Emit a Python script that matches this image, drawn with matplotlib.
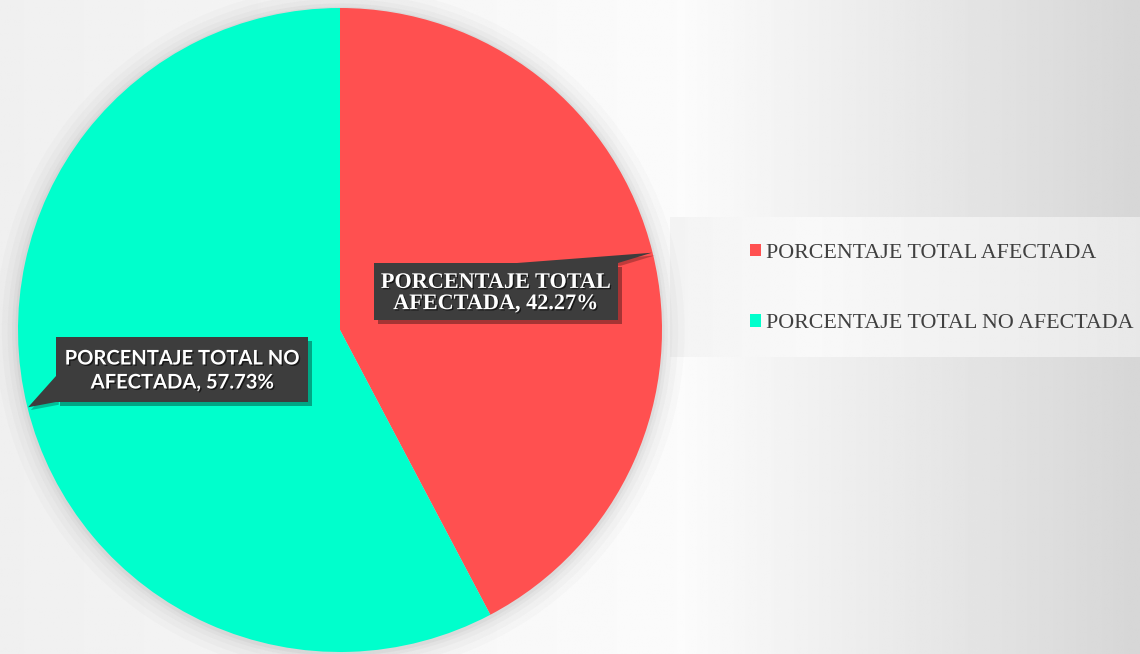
import numpy as np
import matplotlib
matplotlib.use("Agg")
import matplotlib.pyplot as plt
import matplotlib.patheffects as pe
from matplotlib.patches import Circle, Rectangle, Polygon

categories = ["PORCENTAJE TOTAL AFECTADA", "PORCENTAJE TOTAL NO AFECTADA"]
values = [42.27, 57.73]
colors = ["#FF5050", "#00FFCC"]
label_texts = ["PORCENTAJE TOTAL\nAFECTADA, 42.27%", "PORCENTAJE TOTAL NO\nAFECTADA, 57.73%"]

W, H = 1140, 654
plt.rcParams["hatch.linewidth"] = 0.8
plt.rcParams["hatch.color"] = "#575757"
fig = plt.figure(figsize=(W / 100, H / 100), dpi=100)

# background gradient
bg = fig.add_axes([0, 0, 1, 1], zorder=-10)
xs = np.linspace(0, 1, 400)
prof = np.interp(xs, [0, 0.6, 1.0], [0.94, 0.985, 0.84])
bg.imshow(np.tile(prof, (50, 1)), cmap="gray", vmin=0, vmax=1, aspect="auto", extent=[0, 1, 0, 1])
# legend panel
lx0, lx1, ly0, ly1 = 670 / W, 1.0, 1 - 357 / H, 1 - 217 / H
lprof = np.interp(np.linspace(0, 1, 200), [0, 0.3, 1.0], [0.955, 0.975, 0.91])
bg.imshow(np.tile(lprof, (10, 1)), cmap="gray", vmin=0, vmax=1, aspect="auto",
          extent=[lx0, lx1, ly0, ly1])
bg.set_xlim(0, 1)
bg.set_ylim(0, 1)
bg.axis("off")

# pie axes: center (340,330) px, radius 322 px
cx, cy, r = 340, 330, 322
ax = fig.add_axes([(cx - r) / W, (H - cy - r) / H, 2 * r / W, 2 * r / H])
ax.set_facecolor("none")

# soft shadow / glow
for s, a in [(1.07, 0.04), (1.05, 0.05), (1.032, 0.06), (1.018, 0.08), (1.008, 0.1)]:
    ax.add_patch(Circle((0.0, -0.004), s, color="#999999", alpha=a, lw=0, zorder=0, clip_on=False))

wedges, _ = ax.pie(values, colors=colors, startangle=90, counterclock=False,
                   radius=1.0, wedgeprops=dict(linewidth=0))
for w in wedges:
    w.set_zorder(2)
ax.set_xlim(-1, 1)
ax.set_ylim(-1, 1)
ax.set_aspect("equal")
ax.axis("off")

px = 1.0 / r  # one pixel in data units

# label boxes (center, width, height) in data units
boxes = [((156 * px, 38.5 * px), 244 * px, 57 * px),
         ((-158 * px, -39.5 * px), 252 * px, 65 * px)]
fonts = [dict(family="Liberation Serif", size=16, weight="bold", linespacing=1.08),
         dict(family="Lato", size=14.5, weight="bold", linespacing=1.25)]
text_offsets = [-2 * px, -1 * px]

cum = np.cumsum([0] + values)
for i, (v, txt) in enumerate(zip(values, label_texts)):
    mid = 90 - (cum[i] + v / 2) / sum(values) * 360
    tip = (0.998 * np.cos(np.radians(mid)), 0.998 * np.sin(np.radians(mid)))
    (bx, by), bw, bh = boxes[i]
    x0, y0, x1, y1 = bx - bw / 2, by - bh / 2, bx + bw / 2, by + bh / 2
    if i == 0:
        base = [(x0 + 143 * px, y1), (x1, y1)]
    else:
        base = [(x0, y1 - 39 * px), (x0, y0)]
    ptr = Polygon([base[0], tip, base[1]], closed=True, fc="#3d3d3d", ec="none", zorder=4)
    ptr.set_path_effects([pe.SimplePatchShadow(offset=(2, -2), shadow_rgbFace="black", alpha=0.25), pe.Normal()])
    ax.add_patch(ptr)
    rect = Rectangle((x0, y0), bw, bh, fc="#3d3d3d", ec="none", lw=0, hatch="..", zorder=5)
    rect.set_path_effects([pe.SimplePatchShadow(offset=(3, -3), shadow_rgbFace="black", alpha=0.35), pe.Normal()])
    ax.add_patch(rect)
    t = ax.text(bx, by + text_offsets[i], txt, ha="center", va="center", color="white", zorder=6,
                multialignment="center", **fonts[i])
    t.set_path_effects([pe.withSimplePatchShadow(offset=(1, -1), shadow_rgbFace="black", alpha=0.6)])

# legend
leg = fig.legend(handles=[Rectangle((0, 0), 1, 1, fc=c, ec="none") for c in colors],
                 labels=categories, loc="center left",
                 bbox_to_anchor=(750 / W, 1 - 288.5 / H), frameon=False, borderpad=0,
                 borderaxespad=0,
                 prop=dict(family="Liberation Serif", size=15.8),
                 handlelength=0.5, handleheight=0.5, handletextpad=0.25,
                 labelspacing=2.33, labelcolor="#404040")

fig.savefig("out.png", dpi=100)
